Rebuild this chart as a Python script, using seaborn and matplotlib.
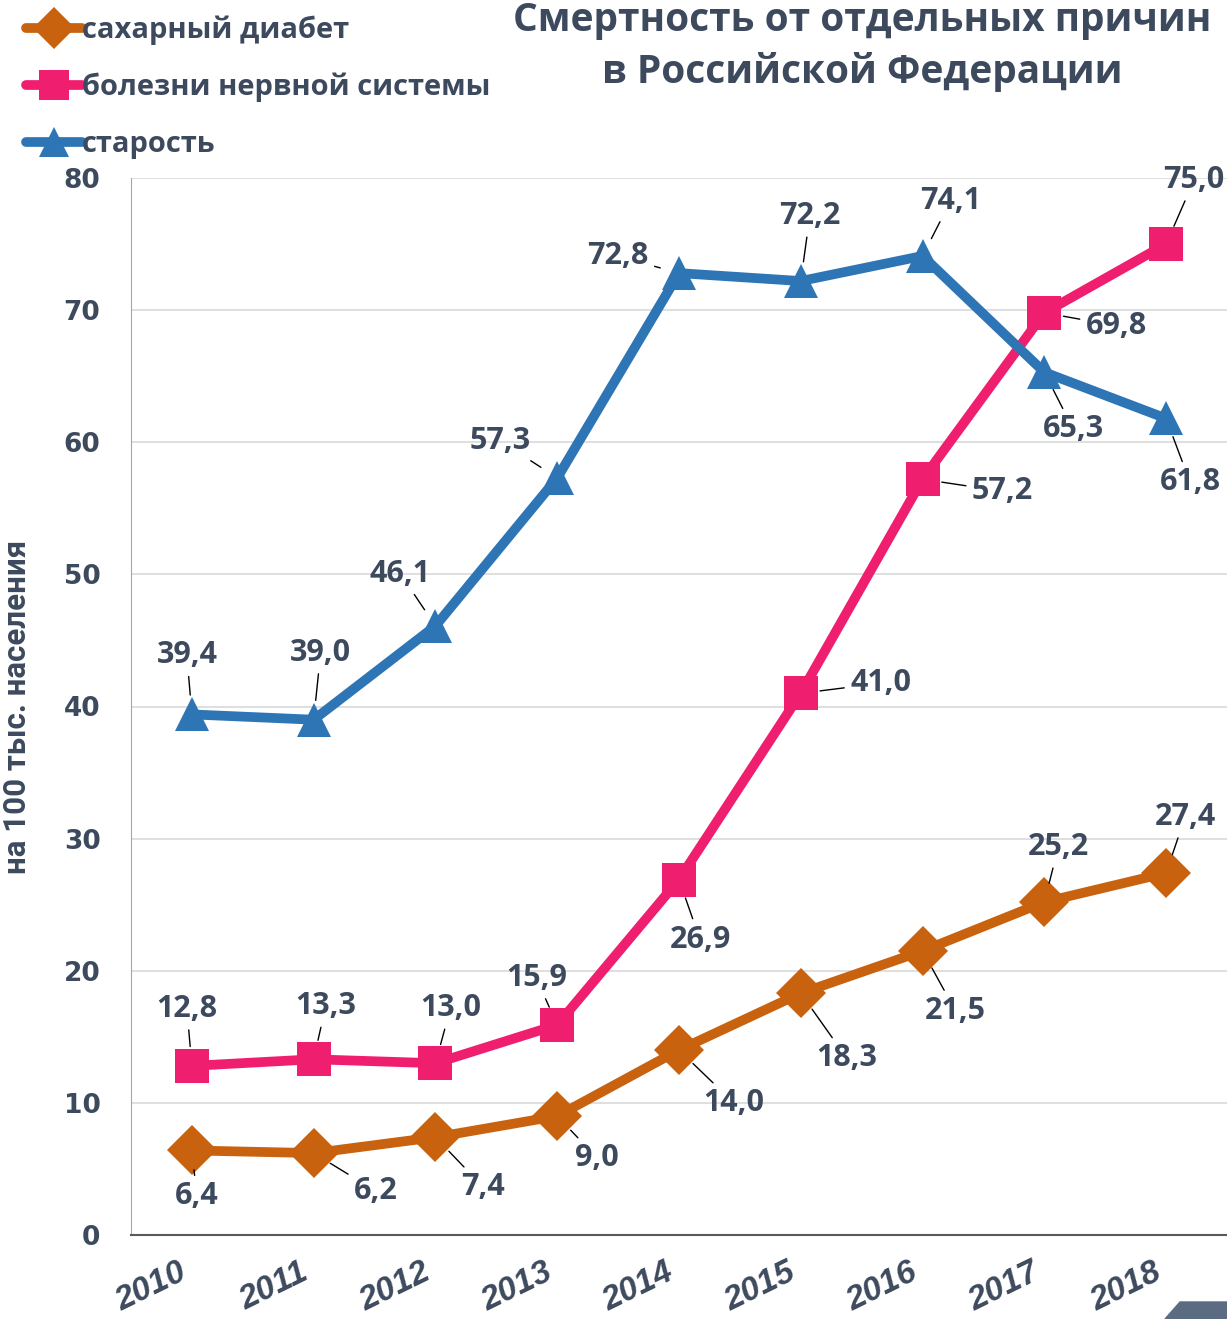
import matplotlib
matplotlib.use("Agg")
import matplotlib.pyplot as plt
import matplotlib.patches as mpatches
import pandas as pd
import seaborn as sns

years = [2010, 2011, 2012, 2013, 2014, 2015, 2016, 2017, 2018]
diabetes = [6.4, 6.2, 7.4, 9.0, 14.0, 18.3, 21.5, 25.2, 27.4]
nervous = [12.8, 13.3, 13.0, 15.9, 26.9, 41.0, 57.2, 69.8, 75.0]
old_age = [39.4, 39.0, 46.1, 57.3, 72.8, 72.2, 74.1, 65.3, 61.8]
series_names = ["сахарный диабет", "болезни нервной системы", "старость"]

title = "Смертность от отдельных причин\nв Российской Федерации"
ylabel = "на 100 тыс. населения"

TXT = "#3d4a5e"
colors = {series_names[0]: "#c8620f", series_names[1]: "#f01e6e", series_names[2]: "#2e75b6"}
markers = {series_names[0]: "D", series_names[1]: "s", series_names[2]: "^"}

# label offsets (pixels, dx right / dy up) relative to the point
offsets = {
    series_names[0]: [(5, -46), (62, -38), (48, -50), (40, -42), (55, -53), (46, -65), (33, -60), (14, 55), (19, 56)],
    series_names[1]: [(-5, 57), (12, 53), (15, 55), (-21, 47), (21, -60), (80, 10), (80, -12), (72, -13), (28, 64)],
    series_names[2]: [(-5, 59), (7, 67), (-35, 52), (-57, 37), (-61, 17), (9, 65), (28, 55), (29, -57), (24, -64)],
}

df = pd.DataFrame({
    "year": years * 3,
    "value": diabetes + nervous + old_age,
    "cause": [series_names[0]] * 9 + [series_names[1]] * 9 + [series_names[2]] * 9,
})

sns.set_style("white")
fig = plt.figure(figsize=(12.27, 13.19), dpi=100)
ax = fig.add_axes([131 / 1227, 84 / 1319, 1 - 131 / 1227, (1235 - 178) / 1319])

sns.lineplot(data=df, x="year", y="value", hue="cause", style="cause",
             palette=colors, markers=markers, dashes=False, linewidth=7,
             markersize=25, markeredgewidth=0, ax=ax, legend=True)

ax.set_xlim(2009.5, 2018.5)
ax.set_ylim(0, 80)
ax.set_yticks(range(0, 81, 10))
ax.yaxis.grid(True, color="#d9d9d9", lw=1.2)
ax.set_axisbelow(True)
for s in ["top", "right"]:
    ax.spines[s].set_visible(False)
ax.spines["left"].set_color("#a6a6a6")
ax.spines["bottom"].set_color("#595959")
ax.spines["bottom"].set_linewidth(1.5)

ax.set_xticks(years)
ax.set_xticks([y - 0.5 for y in years] + [2018.5], minor=True)
ax.tick_params(axis="x", which="major", length=0, pad=16)
ax.tick_params(axis="x", which="minor", length=10, width=1.3, color="#595959")
ax.tick_params(axis="y", length=8, color="#a6a6a6", pad=14)
ax.set_xticklabels([str(y) for y in years], rotation=26, ha="right",
                   family=["Liberation Sans Narrow", "Liberation Sans"],
                   fontweight="bold", fontstyle="italic", fontsize=24, color=TXT)
for lab in ax.get_yticklabels():
    lab.set_family("DejaVu Sans")
    lab.set_fontweight("bold")
    lab.set_fontsize(19)
    lab.set_color(TXT)
ax.set_xlabel("")
ax.set_ylabel(ylabel, color=TXT, family="Roboto", fontweight="bold", fontsize=22.5)
ax.yaxis.set_label_coords(-99 / 1096, 0.5)

vals = {series_names[0]: diabetes, series_names[1]: nervous, series_names[2]: old_age}
for name in series_names:
    for x, v, (dx, dy) in zip(years, vals[name], offsets[name]):
        ax.annotate(f"{v:.1f}".replace(".", ","), xy=(x, v),
                    xytext=(dx / 1.389, dy / 1.389), textcoords="offset points",
                    ha="center", va="center", family="Open Sans",
                    fontweight="bold", fontsize=22, color=TXT,
                    arrowprops=dict(arrowstyle="-", color="black", lw=1,
                                    shrinkA=2, shrinkB=14))

handles, labels = ax.get_legend_handles_labels()
ax.get_legend().remove()
leg = fig.legend(handles, labels, loc="upper left", bbox_to_anchor=(0.0, 1.008),
                 frameon=False, handlelength=1.9, handletextpad=0.0,
                 labelspacing=0.95, markerscale=0.85,
                 prop=dict(family="Open Sans", weight="bold", size=21))
for t in leg.get_texts():
    t.set_color(TXT)

fig.text(862 / 1227, 1.0 - 1 / 1319, title, ha="center", va="top", family="Open Sans",
         fontweight="bold", fontsize=28, color=TXT, linespacing=1.38)

fig.patches.append(mpatches.Polygon(
    [(1165 / 1227, 0), (1180 / 1227, 17 / 1319), (1, 17 / 1319), (1, 0)],
    closed=True, transform=fig.transFigure, color="#5b6b82", zorder=0))

fig.savefig("out.png", dpi=100)
